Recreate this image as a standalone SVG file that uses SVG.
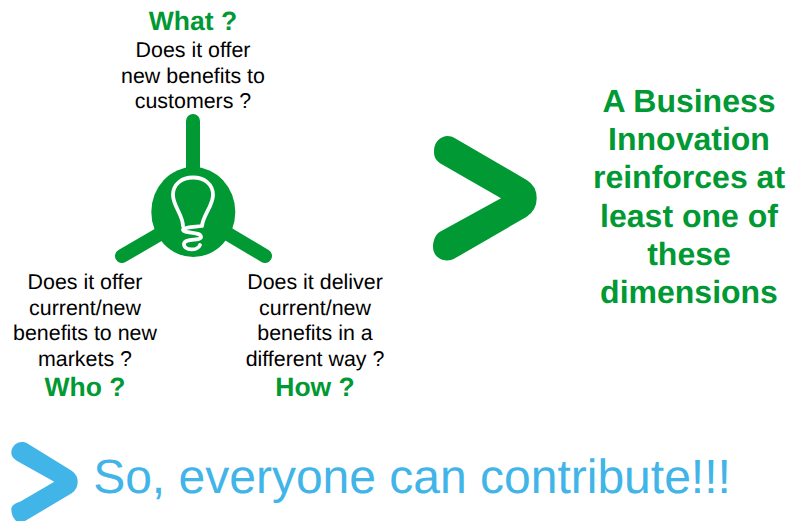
<svg xmlns="http://www.w3.org/2000/svg" width="789" height="521" viewBox="0 0 789 521">
<style>
text{font-family:"Liberation Sans",Arial,sans-serif;text-anchor:middle;text-rendering:geometricPrecision}
.q{font-size:21.4px;fill:#000}
.h{font-size:26.5px;font-weight:bold;fill:#009933}
.m{font-size:32px;font-weight:bold;fill:#009933}
.arm{stroke:#009933;stroke-width:14;stroke-linecap:round;fill:none}
.bulb{stroke:#fff;stroke-width:3.8;stroke-linecap:round;stroke-linejoin:round;fill:none}
</style>
<rect width="789" height="521" fill="#fff"/>
<g id="connectors">
<path class="arm" d="M193 121V175"/>
<path class="arm" d="M122 256L165 231"/>
<path class="arm" d="M265 256L223 231"/>
</g>
<g id="hub">
<ellipse cx="193.3" cy="212" rx="42" ry="45" fill="#009933"/>
<path class="bulb" d="M183 226C183 215 173 206 173 195C173 184 182 177.5 193 177.5C204 177.5 213 184 213 195C213 206 203 215 202 226C196 227 186 227 183 229.500C183 234 201 231 201 237C201 241 184 238 184 244C184 251 198 251 200 245"/>
</g>
<g id="what">
<text class="h" x="193" y="30">What ?</text>
<text class="q" x="193" y="57">Does it offer</text>
<text class="q" x="193" y="83">new benefits to</text>
<text class="q" x="193" y="108">customers ?</text>
</g>
<g id="who">
<text class="q" x="85" y="289">Does it offer</text>
<text class="q" x="85" y="315">current/new</text>
<text class="q" x="85" y="340">benefits to new</text>
<text class="q" x="85" y="366">markets ?</text>
<text class="h" x="85" y="396">Who ?</text>
</g>
<g id="how">
<text class="q" x="315" y="289">Does it deliver</text>
<text class="q" x="315" y="315">current/new</text>
<text class="q" x="315" y="340">benefits in a</text>
<text class="q" x="315" y="366">different way ?</text>
<text class="h" x="315" y="396">How ?</text>
</g>
<g id="chevron-main">
<path fill="#009933" d="M455 138.3L526.7 180Q536.7 186 536.7 198.3Q536.7 210 526.7 216.7L455 258.3C445 264 433 258 433 246.7C433 240 436 234 440 231.7L501 198.3L440 163.3C436 160 434 158 434 151C434 140 445 132 455 138.3Z"/>
</g>
<g id="conclusion">
<text class="m" x="689" y="112">A Business</text>
<text class="m" x="689" y="150">Innovation</text>
<text class="m" x="689" y="188">reinforces at</text>
<text class="m" x="689" y="227">least one of</text>
<text class="m" x="689" y="265">these</text>
<text class="m" x="689" y="303">dimensions</text>
</g>
<g id="chevron-small">
<path fill="#41b4e8" d="M28.3 444L71.7 470.7Q77.7 475 77.7 481.7Q77.7 489 71.7 493.3L25 521H16Q11.3 516 11.3 509C11.3 506 15 503 20 501.7L54.3 481.7L16.7 460.7C13 458 11.3 456 11.3 453C11.3 444 21 439 28.3 444Z"/>
</g>
<g id="footer">
<text x="412" y="493" font-size="48" fill="#41b4e8">So, everyone can contribute!!!</text>
</g>
</svg>
